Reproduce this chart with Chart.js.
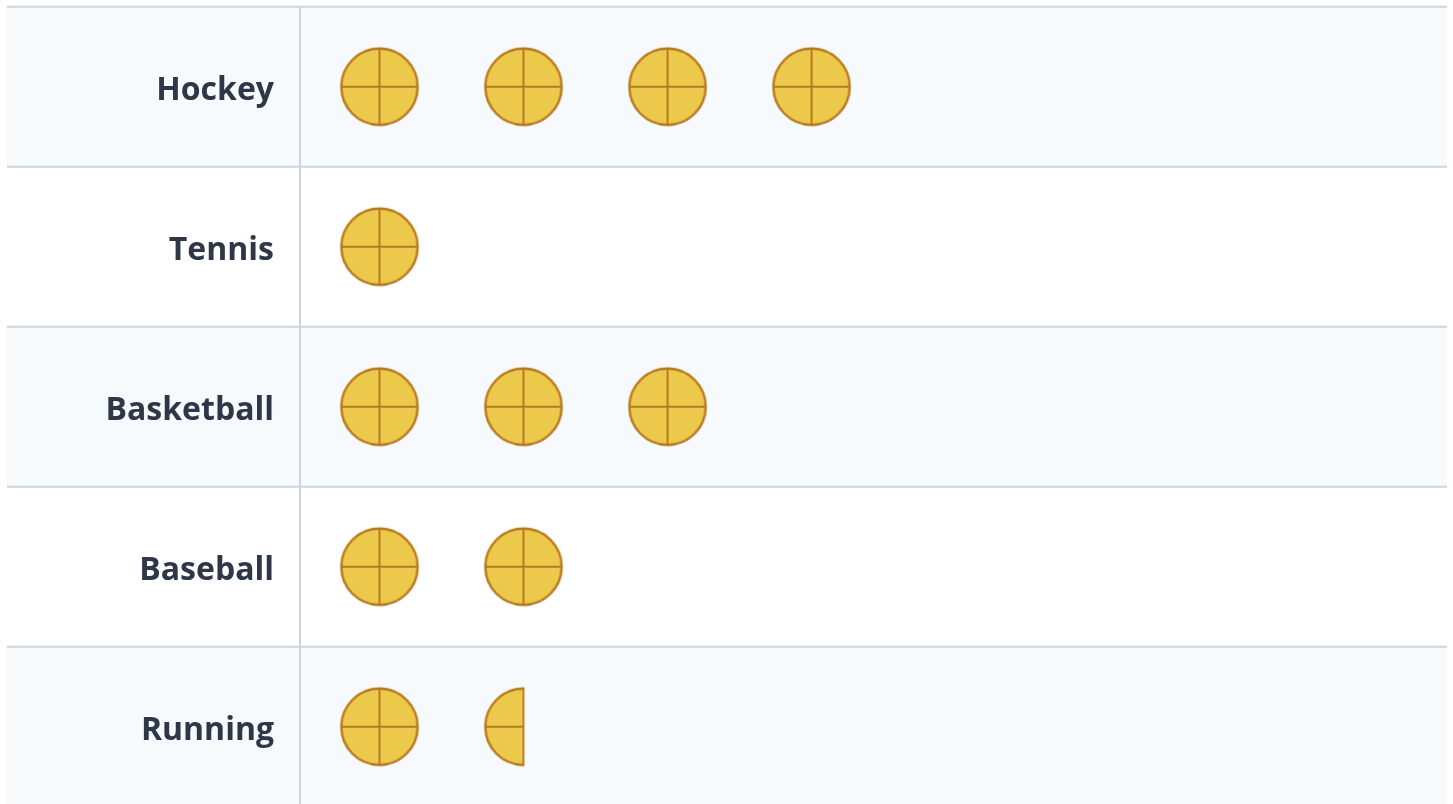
<!DOCTYPE html>
<html>
<head>
<meta charset="utf-8">
<title>Sports pictograph</title>
<script src="https://cdn.jsdelivr.net/npm/chart.js@4"></script>
<style>
    html, body { margin: 0; padding: 0; background: #ffffff; overflow: hidden; }
    #wrap { width: 1453px; height: 804px; overflow: hidden; }
    canvas { display: block; }
</style>
</head>
<body>
<div id="wrap"><canvas id="pictograph" width="1453" height="820"></canvas></div>
<script>
const categories = ['Hockey', 'Tennis', 'Basketball', 'Baseball', 'Running'];
const iconCounts = [4, 1, 3, 2, 1.5];

const ruleColor = '#cbd5e0';
const bandColor = '#f7fafc';
const iconFill = '#ecc94b';
const iconStroke = '#b7791f';
const labelColor = '#2d3748';

// Round ball icon, cut off at a fraction of its width for partial values
function makeIcon(fraction) {
    const c = document.createElement('canvas');
    c.width = 82;
    c.height = 82;
    const g = c.getContext('2d');
    const mid = 41;
    const r = 38.2;
    g.beginPath();
    g.rect(0, 0, mid - r + 2 * r * fraction + (fraction < 1 ? 0.8 : 2), 82);
    g.clip();
    g.beginPath();
    g.arc(mid, mid, r, 0, Math.PI * 2);
    g.fillStyle = iconFill;
    g.fill();
    g.strokeStyle = iconStroke;
    g.lineWidth = 2.4;
    g.stroke();
    g.lineWidth = 2;
    g.beginPath();
    g.moveTo(mid - r, mid);
    g.lineTo(mid + r, mid);
    g.moveTo(mid, mid - r);
    g.lineTo(mid, mid + r);
    g.stroke();
    return c;
}

const fullIcon = makeIcon(1);

// One point per icon, the last one partial when the value is not whole
const points = [];
categories.forEach((name, row) => {
    const value = iconCounts[row];
    for (let i = 0; i < value; i++) {
        points.push({ x: i, y: name, part: Math.min(1, value - i) });
    }
});

// Row bands and rules run under the label column too, so they are drawn first
const rowBands = {
    id: 'rowBands',
    beforeDraw(chart) {
        const { ctx, chartArea, scales } = chart;
        const left = 7;
        const step = scales.y.getPixelForValue(1) - scales.y.getPixelForValue(0);
        ctx.save();
        categories.forEach((name, i) => {
            const top = scales.y.getPixelForValue(i) - step / 2;
            if (i % 2 === 0) {
                ctx.fillStyle = bandColor;
                ctx.fillRect(left, top, chartArea.right - left, step);
            }
        });
        ctx.strokeStyle = ruleColor;
        ctx.lineWidth = 2;
        categories.forEach((name, i) => {
            const top = scales.y.getPixelForValue(i) - step / 2;
            ctx.beginPath();
            ctx.moveTo(left, top);
            ctx.lineTo(chartArea.right, top);
            ctx.stroke();
        });
        ctx.beginPath();
        ctx.moveTo(chartArea.left, chartArea.top);
        ctx.lineTo(chartArea.left, chartArea.bottom);
        ctx.stroke();
        ctx.restore();
    }
};

const chart = new Chart(document.getElementById('pictograph').getContext('2d'), {
    type: 'scatter',
    data: {
        datasets: [{
            label: 'Icons',
            data: points,
            pointStyle: (c) => (c.raw && c.raw.part < 1 ? makeIcon(c.raw.part) : fullIcon),
            pointRadius: 1,
            pointHoverRadius: 1,
            clip: false
        }]
    },
    plugins: [rowBands],
    options: {
        responsive: false,
        animation: false,
        layout: { autoPadding: false, padding: { top: 6.7, right: 6, bottom: 13.3, left: 7 } },
        plugins: {
            legend: { display: false },
            tooltip: { enabled: false }
        },
        scales: {
            x: {
                type: 'linear',
                min: -0.552,
                max: 7.413,
                display: false
            },
            y: {
                type: 'category',
                labels: categories,
                offset: true,
                afterFit: (scale) => {
                    scale.width = 293;
                    scale.paddingTop = 0;
                    scale.paddingBottom = 0;
                },
                border: { display: false },
                grid: { display: false },
                ticks: {
                    color: labelColor,
                    padding: 18,
                    labelOffset: 4,
                    autoSkip: false,
                    font: { family: 'Open Sans', size: 32, weight: '700' }
                }
            }
        }
    }
});
</script>
</body>
</html>
